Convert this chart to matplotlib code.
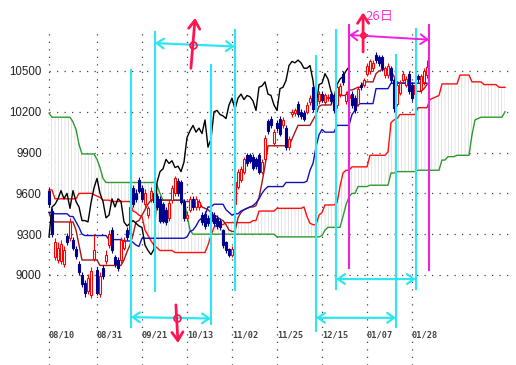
import matplotlib
matplotlib.use("Agg")
import matplotlib.pyplot as plt
import numpy as np

# ---- daily candles (index 0 = 08/10) ----
opens = [
    9620, 9470, 9130, 9110, 9100, 9080, 9290, 9270, 9260, 9190,
    9080, 9000, 8940, 8880, 8850, 9120, 9040, 8860, 9050, 9100,
    9220, 9330, 9130, 9110, 9110, 9200, 9330, 9300, 9640, 9600,
    9700, 9640, 9520, 9440, 9560, 9600, 9580, 9560, 9520, 9480,
    9420, 9550, 9600, 9690, 9680, 9540, 9420, 9480, 9560, 9500,
    9500, 9440, 9450, 9420, 9460, 9440, 9420, 9400, 9330, 9240,
    9190, 9150, 9520, 9650, 9700, 9760, 9880, 9880, 9870, 9850,
    9880, 9760, 9850, 10130, 10150, 9970, 10120, 10150, 10100, 10080,
    9940, 10180, 10190, 10260, 10200, 10190, 10200, 10270, 10380, 10250,
    10280, 10330, 10270, 10300, 10330, 10300, 10250, 10330, 10480, 10280,
    10300, 10330, 10300, 10260, 10400, 10400, 10480, 10500, 10520, 10620,
    10600, 10600, 10470, 10470, 10520, 10430, 10260, 10340, 10430, 10400,
    10480, 10400, 10330, 10460, 10360, 10420, 10470]
closes = [
    9520, 9300, 9240, 9200, 9230, 9180, 9240, 9390, 9200, 9140,
    9020, 8930, 8870, 8980, 9030, 9180, 8870, 8990, 8990, 9150,
    9300, 9180, 9080, 9050, 9260, 9250, 9280, 9500, 9520, 9560,
    9620, 9560, 9600, 9490, 9620, 9540, 9500, 9400, 9400, 9390,
    9530, 9640, 9710, 9600, 9540, 9420, 9440, 9560, 9500, 9560,
    9540, 9390, 9360, 9380, 9400, 9380, 9360, 9350, 9220, 9180,
    9150, 9190, 9680, 9760, 9780, 9850, 9820, 9840, 9790, 9800,
    9760, 9830, 10010, 10060, 10100, 10050, 10080, 10040, 10140, 9940,
    10000, 10200, 10210, 10180, 10170, 10150, 10250, 10300, 10220, 10300,
    10330, 10290, 10320, 10310, 10280, 10210, 10380, 10390, 10420, 10330,
    10320, 10250, 10210, 10370, 10380, 10430, 10540, 10570, 10560, 10580,
    10560, 10520, 10520, 10540, 10430, 10230, 10400, 10410, 10480, 10440,
    10350, 10300, 10400, 10440, 10460, 10500, 10530]
highs = [
    9650, 9490, 9270, 9240, 9260, 9210, 9310, 9420, 9280, 9210,
    9100, 9020, 8960, 9010, 9060, 9300, 9060, 9020, 9070, 9180,
    9330, 9350, 9150, 9130, 9280, 9280, 9350, 9520, 9660, 9630,
    9720, 9660, 9630, 9510, 9650, 9620, 9600, 9580, 9540, 9500,
    9550, 9660, 9730, 9710, 9700, 9560, 9470, 9580, 9580, 9580,
    9560, 9460, 9470, 9440, 9480, 9460, 9440, 9420, 9340, 9250,
    9200, 9210, 9700, 9780, 9800, 9870, 9900, 9900, 9890, 9870,
    9900, 9850, 10030, 10150, 10170, 10070, 10140, 10170, 10160, 10100,
    10020, 10220, 10230, 10280, 10220, 10210, 10270, 10320, 10400, 10320,
    10350, 10350, 10340, 10330, 10350, 10320, 10400, 10410, 10500, 10350,
    10340, 10350, 10320, 10390, 10420, 10450, 10560, 10590, 10580, 10640,
    10620, 10620, 10540, 10560, 10540, 10450, 10420, 10430, 10500, 10460,
    10500, 10420, 10420, 10480, 10480, 10520, 10580]
lows = [
    9500, 9280, 9110, 9090, 9080, 9060, 9220, 9250, 9180, 9120,
    9000, 8910, 8840, 8860, 8830, 9100, 8850, 8840, 8970, 9080,
    9200, 9160, 9060, 9030, 9090, 9180, 9260, 9280, 9500, 9540,
    9600, 9540, 9500, 9420, 9540, 9520, 9480, 9380, 9380, 9370,
    9400, 9530, 9580, 9580, 9520, 9400, 9400, 9460, 9480, 9480,
    9480, 9370, 9340, 9360, 9380, 9360, 9340, 9330, 9200, 9160,
    9130, 9130, 9500, 9630, 9680, 9740, 9800, 9820, 9770, 9780,
    9740, 9740, 9830, 10040, 10080, 9950, 10060, 10020, 10080, 9920,
    9920, 10160, 10170, 10160, 10150, 10130, 10180, 10250, 10200, 10230,
    10260, 10270, 10250, 10280, 10260, 10190, 10230, 10310, 10400, 10260,
    10280, 10230, 10190, 10240, 10360, 10380, 10460, 10480, 10500, 10560,
    10540, 10500, 10450, 10450, 10410, 10200, 10240, 10320, 10410, 10380,
    10330, 10280, 10310, 10420, 10340, 10400, 10450]

# ---- ichimoku lines ----
tenkan = ([9460, 9400] + [9390] * 7 + [9330, 9220] + [9110] * 6 + [9070] * 8
          + [9110, 9170, 9220, 9295, 9390, 9400, 9440, 9480, 9520] + [9550] * 11
          + [9540] * 6
          + [9500, 9490, 9480, 9460, 9440, 9430, 9410, 9400, 9370, 9330, 9320, 9320]
          + [9420, 9460, 9480, 9490, 9500, 9500, 9510, 9570, 9680, 9800]
          + [9950] * 8 + [10000, 10050] + [10100] * 5 + [10140, 10180, 10240]
          + [10250] * 4 + [10320] * 5 + [10360, 10360, 10370, 10380, 10380]
          + [10420] * 4 + [10480, 10500] + [10510] * 3 + [10500, 10460, 10420]
          + [10410] * 5 + [10350] * 3 + [10370, 10400])
kijun = ([9460] * 2 + [9450] * 5 + [9430] * 2 + [9390, 9350, 9300] + [9290] * 8
         + [9260] * 5 + [9250] * 3 + [9240, 9220, 9210] + [9270] * 15
         + [9280, 9320, 9330, 9360, 9400, 9420, 9440] + [9500] * 2 + [9520] * 4
         + [9480, 9460, 9440] + [9450] * 2
         + [9470, 9480, 9490, 9500, 9510, 9530, 9560, 9600, 9630]
         + [9650] * 6 + [9680] * 7 + [9690, 9770, 9820, 9940, 10030, 10070]
         + [10050] * 4 + [10100] * 5 + [10180, 10210] + [10260] * 6
         + [10370] * 5 + [10410] * 13)
span_a = ([9625] * 2 + [9560] * 8 + [9600] * 5 + [9590, 9580, 9570] + [9550] * 3
          + [9540] * 7 + [9470, 9460, 9440, 9430, 9330, 9290, 9250, 9220, 9200]
          + [9180] * 5 + [9165] * 11 + [9220, 9290, 9350] + [9370] * 3
          + [9385] * 9 + [9400] * 2 + [9470] * 6 + [9490] * 9
          + [9500, 9430, 9380] + [9370] * 2 + [9440, 9460] + [9515] * 4
          + [9530, 9650, 9750] + [9770] * 2 + [9795] * 6 + [9880] * 6
          + [9905, 10120, 10140, 10150] + [10180] * 6 + [10230] * 4
          + [10290, 10300, 10310, 10320] + [10405] * 6 + [10470] * 4
          + [10420] * 4 + [10400] * 5 + [10380] * 3)
span_b = ([10190] + [10160] * 7 + [10125, 10070, 9960] + [9890] * 5
          + [9850, 9790, 9710] + [9680] * 17 + [9660, 9600] + [9550] * 8
          + [9440, 9330] + [9300] * 28 + [9280] * 15 + [9290, 9330] + [9350] * 5
          + [9430, 9515, 9575] + [9600] * 2 + [9650] * 4 + [9660] * 7
          + [9750] * 2 + [9760] * 7 + [9770] * 8 + [9845] * 2 + [9870] * 3
          + [9880] * 5 + [10030, 10140, 10150] + [10160] * 8 + [10200])

date_labels = ["08/10", "08/31", "09/21", "10/13", "11/02",
               "11/25", "12/15", "01/07", "01/28"]
date_pos = [0, 16, 31, 46, 61, 76, 91, 106, 121]
price_ticks = [9000, 9300, 9600, 9900, 10200, 10500]
lag = 26

# ---- annotation layout (index, price) ----
cyan_lines = [(27.3, 8620, 10510), (35.3, 8880, 10790), (54.0, 8640, 10545),
              (62.0, 8890, 10800), (89.0, 8590, 10610), (95.7, 8900, 10800),
              (115.7, 8620, 10620), (122.3, 8900, 10810)]
pink_lines = [(100.0, 9050, 10840), (126.7, 9040, 10840)]
cyan_spans = [((35.3, 10705), (62.0, 10680)), ((27.3, 8690), (54.0, 8680)),
              ((95.7, 8970), (122.3, 8970)), ((89.0, 8685), (115.7, 8685))]
red_arrows = [((47.3, 10520), (48.7, 10890)), ((42.3, 8780), (43.0, 8500)),
              ((104.7, 10640), (104.7, 10930))]
red_rings = [(48.0, 10690), (42.7, 8684)]

fig = plt.figure(figsize=(5.16, 3.65), dpi=100)
ax = fig.add_axes([46 / 516, 0, 467 / 516, 337 / 365])
ax.set_xlim(-1, 154.67)
ax.set_ylim(8338, 10816)
for s in ax.spines.values():
    s.set_visible(False)

grid_kw = dict(color="#444444", lw=0.9, linestyle=(0, (1, 5)), zorder=0)
for p in date_pos:
    ax.vlines(p, 8338, 10816, **grid_kw)
for p in price_ticks:
    ax.hlines(p, 0, 154.67, **grid_kw)

ax.set_xticks([])
ax.set_yticks(price_ticks)
ax.set_yticklabels([str(p) for p in price_ticks], family="Liberation Sans",
                   fontsize=8.3, color="#222222")
ax.tick_params(axis="y", length=0, pad=3)
for p, lab in zip(date_pos, date_labels):
    ax.text(p, 8560, lab, ha="left", va="center", family="DejaVu Sans Mono",
            fontsize=6.2, fontweight="bold", color="#444444")

# cloud
plt.rcParams["hatch.linewidth"] = 0.4
xa = np.arange(len(span_a))
ax.fill_between(xa, span_a, span_b, facecolor="white", edgecolor="#cfcfcf",
                hatch="|||||", linewidth=0, zorder=1)
ax.plot(xa, span_a, color="#ff1010", lw=1.0, zorder=2)
ax.plot(xa, span_b, color="#2e9a2e", lw=1.0, zorder=2)

xs = np.arange(len(closes))
ax.plot(xs, tenkan, color="#a01818", lw=1.0, zorder=2)
ax.plot(xs, kijun, color="#1010c0", lw=1.0, zorder=2)
ax.plot(xs[:len(closes) - lag], closes[lag:], color="black", lw=1.0, zorder=2)

# candles
for i in range(len(closes)):
    o, c = opens[i], closes[i]
    up = c >= o
    col = "#ff0000" if up else "#000090"
    ax.vlines(i, lows[i], highs[i], color=col, lw=0.8, zorder=3)
    ax.bar(i, abs(c - o) or 8, bottom=min(o, c), width=0.72,
           facecolor="white" if up else col, edgecolor=col, lw=0.8, zorder=4)

# annotations
for x, y0, y1 in cyan_lines:
    ax.plot([x, x], [y0, y1], color="#2ee6f0", lw=1.5, zorder=5, clip_on=False)
for x, y0, y1 in pink_lines:
    ax.plot([x, x], [y0, y1], color="#f020e0", lw=1.5, zorder=5, clip_on=False)
for a, b in cyan_spans:
    ax.annotate("", xy=b, xytext=a, annotation_clip=False,
                arrowprops=dict(arrowstyle="<->,head_length=0.5,head_width=0.35",
                                color="#2ee6f0", lw=1.6, mutation_scale=10,
                                shrinkA=0, shrinkB=0), zorder=6)
ax.annotate("", xy=(126.7, 10730), xytext=(100.0, 10765), annotation_clip=False,
            arrowprops=dict(arrowstyle="<->,head_length=0.5,head_width=0.35",
                            color="#f020e0", lw=1.4, mutation_scale=10,
                            shrinkA=0, shrinkB=0), zorder=6)
for a, b in red_arrows:
    ax.annotate("", xy=b, xytext=a, annotation_clip=False,
                arrowprops=dict(arrowstyle="->,head_length=0.6,head_width=0.4",
                                color="#ff1450", lw=2, mutation_scale=10,
                                shrinkA=0, shrinkB=0), zorder=7)
for x, y in red_rings:
    ax.plot(x, y, "o", ms=5, mfc="none", mec="#ff1450", mew=1.2, zorder=8,
            clip_on=False)
ax.plot(104.7, 10765, "o", ms=4, color="#ff1450", zorder=8, clip_on=False)
ax.text(110.3, 10897, "26日", color="#ff33cc", fontsize=9.5, ha="center",
        va="center", family=["Noto Sans CJK JP", "DejaVu Sans"], clip_on=False)

fig.savefig("out.png", dpi=100)
